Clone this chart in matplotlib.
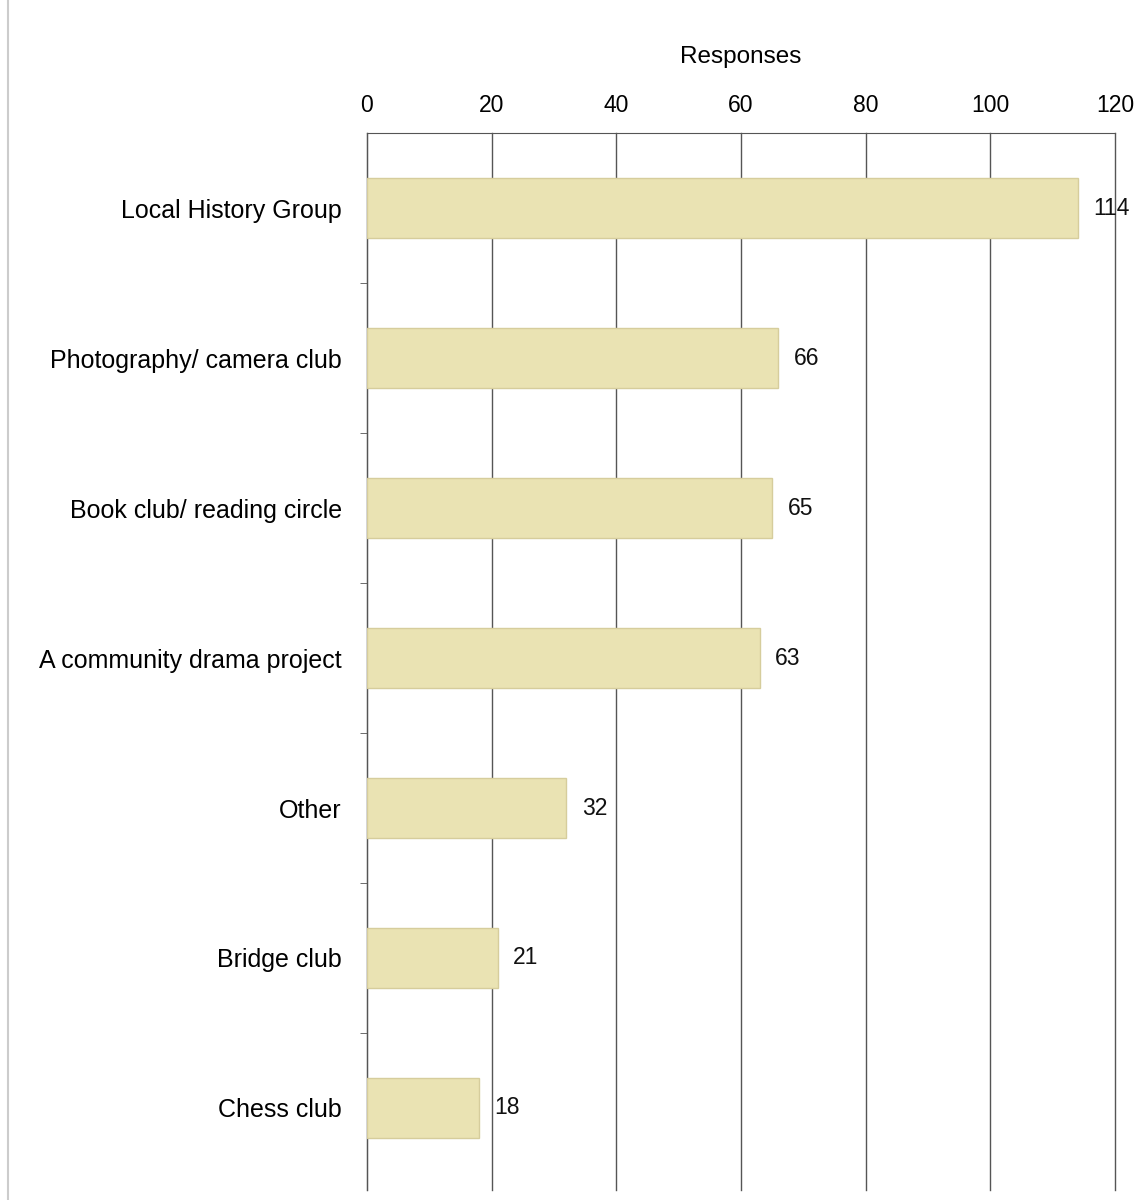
import matplotlib.pyplot as plt
import numpy as np

# Survey responses by group
categories = [
    "Local History Group",
    "Photography/ camera club",
    "Book club/ reading circle",
    "A community drama project",
    "Other",
    "Bridge club",
    "Chess club",
]
responses = [114, 66, 65, 63, 32, 21, 18]
x_ticks = [0, 20, 40, 60, 80, 100, 120]

plt.rcParams["font.family"] = ["Liberation Sans", "DejaVu Sans"]

fig = plt.figure(figsize=(11.4, 12), dpi=100)
ax = fig.add_axes([0.3219, 0.008, 0.6561, 0.881])

# thin page border at the left edge
fig.add_artist(plt.Line2D([0.007, 0.007], [0, 1], color="#cccccc", lw=1.5))

y = np.arange(len(categories))
ax.barh(y, responses, height=0.4, color="#eae3b3", edgecolor="#d6cd9c",
        linewidth=1, zorder=3)

for yi, v in zip(y, responses):
    ax.annotate(str(v), (v, yi), xytext=(11, 0), textcoords="offset points",
                ha="left", va="center", fontsize=16.5, color="#111111", zorder=4)

ax.set_xlim(0, 120)
ax.set_ylim(len(categories) - 0.45, -0.5)
ax.xaxis.tick_top()
ax.xaxis.set_label_position("top")
ax.set_xticks(x_ticks)
ax.set_xticklabels([str(t) for t in x_ticks], fontsize=16.5)
ax.set_xlabel("Responses", fontsize=17.5, labelpad=22)
ax.tick_params(axis="x", length=0, pad=12)

# category labels, ticks at category boundaries
ax.set_yticks(y)
ax.set_yticklabels(categories, fontsize=18)
ax.tick_params(axis="y", length=0, pad=18)
ax.set_yticks(np.arange(len(categories) - 1) + 0.5, minor=True)
ax.tick_params(axis="y", which="minor", length=5, color="#555555")

ax.grid(axis="x", color="#555555", linewidth=1, zorder=0)
for gl in ax.get_xgridlines():
    gl.set_clip_on(False)
for s in ["right", "bottom"]:
    ax.spines[s].set_visible(False)
ax.spines["top"].set_color("#555555")
ax.spines["left"].set_color("#555555")

fig.savefig("out.png", dpi=100)
